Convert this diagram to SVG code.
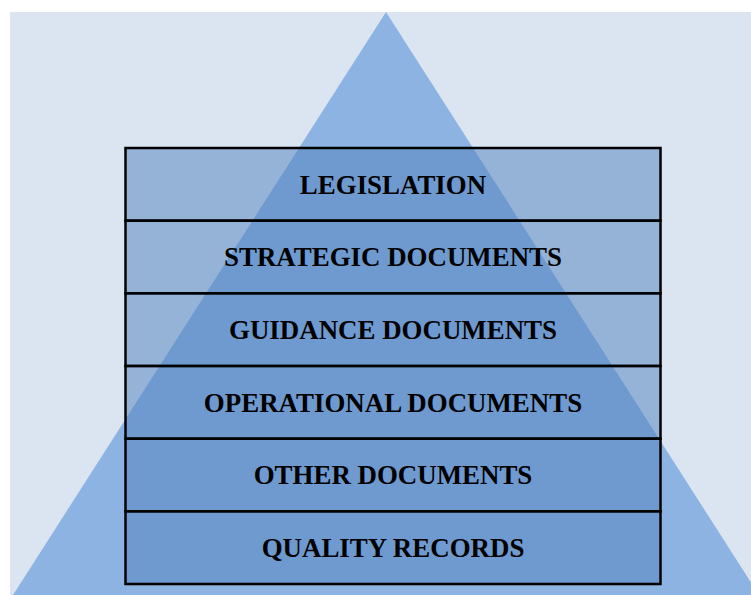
<svg xmlns="http://www.w3.org/2000/svg" width="751" height="595" viewBox="0 0 751 595">
<style>
.box{fill:#4f81bd;fill-opacity:0.5;stroke:#000;stroke-width:2.5}
.lbl{font-family:"Liberation Serif","Times New Roman",serif;font-weight:bold;font-size:26.9px;fill:#000;text-anchor:middle}
</style>
<rect x="0" y="0" width="751" height="595" fill="#ffffff"/>
<rect x="10" y="12" width="741" height="583" fill="#dbe5f1"/>
<polygon points="386,12 13,595 759,595" fill="#8db3e2"/>
<g id="connectors"></g>
<g id="legislation"><rect class="box" x="125.5" y="148" width="535" height="72.7"/><text class="lbl" x="393" y="193.7">LEGISLATION</text></g>
<g id="strategic"><rect class="box" x="125.5" y="220.7" width="535" height="72.7"/><text class="lbl" x="393" y="266.4">STRATEGIC DOCUMENTS</text></g>
<g id="guidance"><rect class="box" x="125.5" y="293.3" width="535" height="72.7"/><text class="lbl" x="393" y="339">GUIDANCE DOCUMENTS</text></g>
<g id="operational"><rect class="box" x="125.5" y="366" width="535" height="72.7"/><text class="lbl" x="393" y="411.7">OPERATIONAL DOCUMENTS</text></g>
<g id="other"><rect class="box" x="125.5" y="438.7" width="535" height="72.7"/><text class="lbl" x="393" y="484.4">OTHER DOCUMENTS</text></g>
<g id="quality"><rect class="box" x="125.5" y="511.3" width="535" height="72.7"/><text class="lbl" x="393" y="557">QUALITY RECORDS</text></g>
</svg>
